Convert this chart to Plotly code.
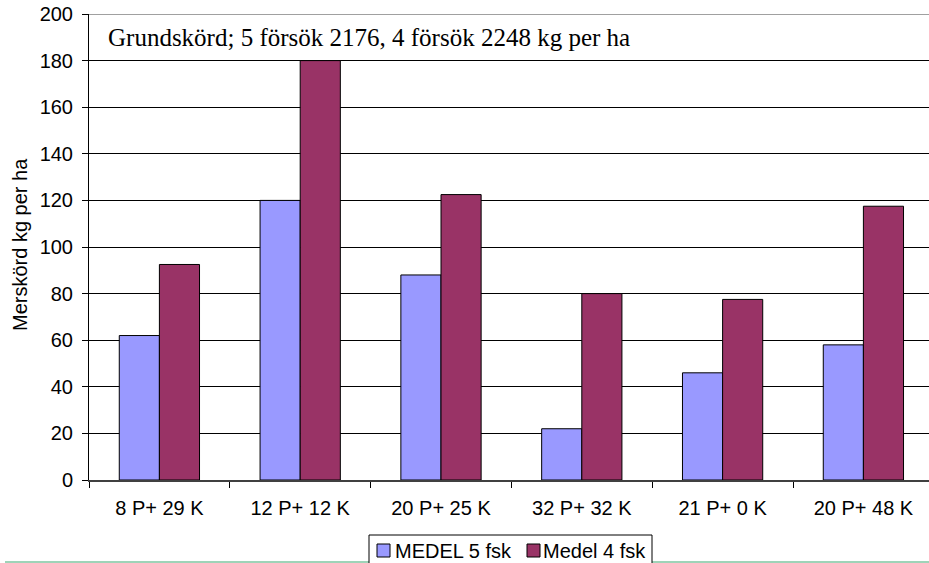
import plotly.graph_objects as go

categories = ["8 P+ 29 K", "12 P+ 12 K", "20 P+ 25 K", "32 P+ 32 K", "21 P+ 0 K", "20 P+ 48 K"]
medel5 = [62, 120, 88, 22, 46, 58]
medel4 = [92.5, 180, 122.5, 80, 77.5, 117.5]
y_ticks = [0, 20, 40, 60, 80, 100, 120, 140, 160, 180, 200]
series_names = ["MEDEL 5 fsk", "Medel 4 fsk"]
series_colors = ["#9999FF", "#993366"]

W, H = 929, 563
L, R, T, B = 89, 0, 14, 83
pw, ph = W - L - R, H - T - B


def px(x):
    return (x - L) / pw


def py(y):
    return (T + ph - y) / ph


fig = go.Figure()
for name, vals, col in zip(series_names, [medel5, medel4], series_colors):
    fig.add_trace(go.Bar(x=categories, y=vals, name=name,
                         marker=dict(color=col, line=dict(color="black", width=1))))

cat_w = 140.8
right_range = -0.5 + pw / cat_w

shapes = [
    # green baseline, interrupted by legend box
    dict(type="line", xref="paper", yref="paper", x0=px(5), x1=px(369), y0=py(562), y1=py(562),
         line=dict(color="#7fc4a0", width=1.5)),
    dict(type="line", xref="paper", yref="paper", x0=px(652), x1=px(929), y0=py(562), y1=py(562),
         line=dict(color="#7fc4a0", width=1.5)),
    # legend box
    dict(type="rect", xref="paper", yref="paper", x0=px(369), x1=px(652), y0=py(535), y1=py(566),
         line=dict(color="black", width=1), fillcolor="white"),
    # top gridline drawn grey like the reference
    dict(type="line", xref="paper", yref="y", x0=0, x1=1, y0=200, y1=200,
         line=dict(color="#808080", width=1.5), layer="above"),
]
annotations = [
    dict(text="Grundskörd; 5 försök 2176, 4 försök 2248 kg per ha",
         xref="paper", yref="paper", x=px(106), y=py(37),
         xanchor="left", yanchor="middle", showarrow=False,
         font=dict(family="Liberation Serif, Times New Roman", size=25, color="black")),
    dict(text="Merskörd kg per ha", xref="paper", yref="paper", x=px(20), y=py(245),
         xanchor="center", yanchor="middle", textangle=-90, showarrow=False,
         font=dict(size=20, color="black")),
]
leg_sq_x = [377, 527]
leg_tx_x = [393, 541]
for i, (name, col) in enumerate(zip(series_names, series_colors)):
    shapes.append(dict(type="rect", xref="paper", yref="paper",
                       x0=px(leg_sq_x[i]), x1=px(leg_sq_x[i] + 13), y0=py(544), y1=py(557),
                       line=dict(color="black", width=1), fillcolor=col))
    annotations.append(dict(text=name, xref="paper", yref="paper", x=px(leg_tx_x[i]), y=py(550.5),
                            xanchor="left", yanchor="middle", showarrow=False,
                            font=dict(size=20, color="black")))

fig.update_layout(
    width=W, height=H,
    margin=dict(l=L, r=R, t=T, b=B, pad=0),
    paper_bgcolor="white", plot_bgcolor="white",
    barmode="group", bargap=0.43, bargroupgap=0,
    showlegend=False,
    font=dict(family="Liberation Sans, Arial", size=20, color="black"),
    xaxis=dict(type="category", range=[-0.5, right_range], showgrid=False, automargin=False,
               showline=True, linecolor="#404040", linewidth=2,
               ticks="outside", tickson="boundaries", ticklen=6, tickcolor="black",
               tickfont=dict(size=20), ticklabelstandoff=9),
    yaxis=dict(range=[0, 200], tickvals=y_ticks, showgrid=True, gridcolor="black", automargin=False,
               gridwidth=1, showline=True, linecolor="black", linewidth=1,
               ticks="outside", ticklen=6, tickcolor="black", zeroline=False,
               tickfont=dict(size=20), ticklabelstandoff=5),
    shapes=shapes,
    annotations=annotations,
)

fig.write_html("out.html", config={"displayModeBar": False},
               post_script="document.body.style.margin='0';document.body.style.overflow='hidden';")
